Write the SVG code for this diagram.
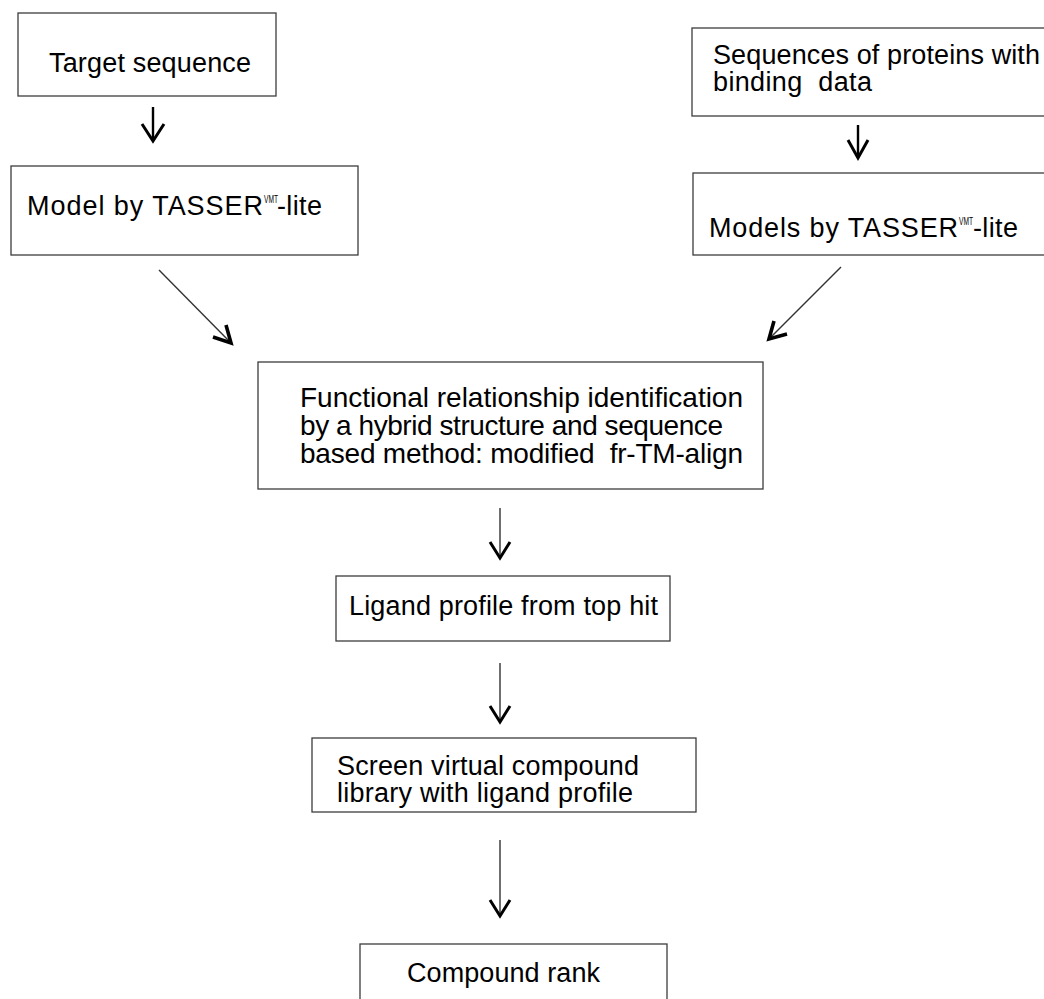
<svg xmlns="http://www.w3.org/2000/svg" width="1044" height="999" viewBox="0 0 1044 999">
<style>
.box{fill:#fff;stroke:#3c3c3c;stroke-width:1.3}
.t{font-family:"Liberation Sans",Arial,sans-serif;font-size:27px;fill:#000}
.f{font-size:28px}
.sup{font-size:10px}
.shaft{fill:none;stroke:#333;stroke-width:1.4}
.shaftB{fill:none;stroke:#000;stroke-width:2.4}
.head{fill:none;stroke:#000;stroke-width:3;stroke-linecap:butt;stroke-linejoin:miter}
.headD{fill:none;stroke:#000;stroke-width:3.6;stroke-linecap:butt;stroke-linejoin:miter}
</style>
<rect width="1044" height="999" fill="#fff"/>
<g id="connectors">
  <g id="c1">
    <path class="shaftB" d="M153 107 V141"/>
    <path class="head" d="M142 124 L153 141 L164 124"/>
  </g>
  <g id="c2">
    <path class="shaftB" d="M858 125 V158"/>
    <path class="head" d="M848 140 L858 158 L868 140"/>
  </g>
  <g id="c3">
    <path class="shaft" d="M159 270 L230 342"/>
    <path class="headD" d="M213 337 L231 343 L226 325"/>
  </g>
  <g id="c4">
    <path class="shaft" d="M841 267 L770 338"/>
    <path class="headD" d="M787 334 L769 339 L774 321"/>
  </g>
  <g id="c5">
    <path class="shaft" d="M500 508 V557"/>
    <path class="head" d="M490 542 L500 558 L510 542"/>
  </g>
  <g id="c6">
    <path class="shaft" d="M500 663 V721"/>
    <path class="head" d="M490 706 L500 722 L510 706"/>
  </g>
  <g id="c7">
    <path class="shaft" d="M500 840 V915"/>
    <path class="head" d="M490 900 L500 916 L510 900"/>
  </g>
</g>
<g id="target">
  <rect class="box" x="18" y="13" width="258" height="83"/>
  <text class="t" x="49" y="72" textLength="202">Target sequence</text>
</g>
<g id="model">
  <rect class="box" x="11" y="166" width="347" height="89"/>
  <text class="t" x="27" y="215"><tspan textLength="236">Model by TASSER</tspan><tspan class="sup" x="264" y="203" textLength="14" lengthAdjust="spacingAndGlyphs">VMT</tspan><tspan x="277" y="215" textLength="45">-lite</tspan></text>
</g>
<g id="sequences">
  <rect class="box" x="692" y="28" width="360" height="88"/>
  <text class="t" xml:space="preserve"><tspan x="713" y="64" textLength="327">Sequences of proteins with</tspan><tspan x="713" y="91" textLength="159">binding  data</tspan></text>
</g>
<g id="models">
  <rect class="box" x="693" y="173" width="360" height="82"/>
  <text class="t" x="709" y="237"><tspan textLength="249">Models by TASSER</tspan><tspan class="sup" x="959" y="225" textLength="14" lengthAdjust="spacingAndGlyphs">VMT</tspan><tspan x="973" y="237" textLength="45">-lite</tspan></text>
</g>
<g id="functional">
  <rect class="box" x="258" y="362" width="505" height="127"/>
  <text class="t f" xml:space="preserve"><tspan x="300" y="407" textLength="443">Functional relationship identification</tspan><tspan x="300" y="435" textLength="423">by a hybrid structure and sequence</tspan><tspan x="300" y="463" textLength="443">based method: modified  fr-TM-align</tspan></text>
</g>
<g id="ligand">
  <rect class="box" x="336" y="576" width="334" height="65"/>
  <text class="t" x="349" y="615" textLength="309">Ligand profile from top hit</text>
</g>
<g id="screen">
  <rect class="box" x="312" y="738" width="384" height="74"/>
  <text class="t"><tspan x="337" y="775" textLength="302">Screen virtual compound</tspan><tspan x="337" y="802" textLength="296">library with ligand profile</tspan></text>
</g>
<g id="rank">
  <rect class="box" x="360" y="944" width="307" height="70"/>
  <text class="t" x="407" y="982" textLength="193">Compound rank</text>
</g>
</svg>
